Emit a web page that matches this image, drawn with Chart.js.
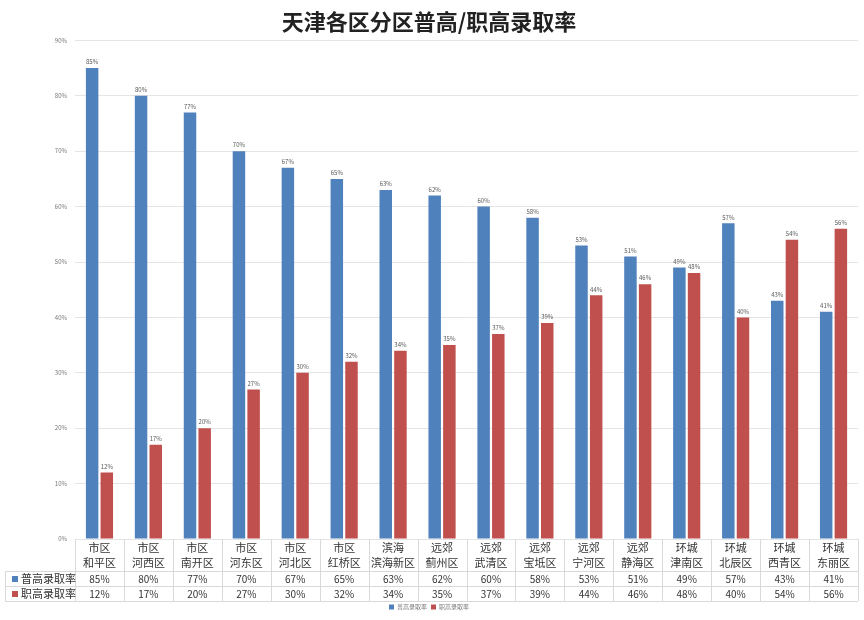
<!DOCTYPE html>
<html>
<head>
<meta charset="utf-8">
<script src="https://cdn.jsdelivr.net/npm/chart.js@4"></script>
<style>
  html, body { margin: 0; padding: 0; background: #fff; }
  #wrap { width: 864px; height: 620px; }
</style>
</head>
<body>
<div id="wrap"><canvas id="chart" width="864" height="620"></canvas></div>
<script>
// data
var regions = ['市区', '市区', '市区', '市区', '市区', '市区', '滨海', '远郊', '远郊', '远郊', '远郊', '远郊', '环城', '环城', '环城', '环城'];
var districts = ['和平区', '河西区', '南开区', '河东区', '河北区', '红桥区', '滨海新区', '蓟州区', '武清区', '宝坻区', '宁河区', '静海区', '津南区', '北辰区', '西青区', '东丽区'];
var puGao = [85, 80, 77, 70, 67, 65, 63, 62, 60, 58, 53, 51, 49, 57, 43, 41];
var zhiGao = [12, 17, 20, 27, 30, 32, 34, 35, 37, 39, 44, 46, 48, 40, 54, 56];
var seriesNames = ['普高录取率', '职高录取率'];
var yTicks = [0, 10, 20, 30, 40, 50, 60, 70, 80, 90];

var BLUE = '#4f81bd', RED = '#c0504d';
var CJK = '"Noto Sans CJK SC", "Noto Sans", sans-serif';

// value labels on top of the bars
var barLabels = {
  id: 'barLabels',
  afterDatasetsDraw: function (chart) {
    var ctx = chart.ctx;
    ctx.save();
    ctx.font = '6px ' + CJK;
    ctx.fillStyle = '#595959';
    ctx.textAlign = 'center';
    ctx.textBaseline = 'bottom';
    chart.data.datasets.forEach(function (ds, di) {
      chart.getDatasetMeta(di).data.forEach(function (bar, i) {
        ctx.fillText(ds.data[i] + '%', bar.x, bar.y - 3);
      });
    });
    ctx.restore();
  }
};

// data table under the plot
var dataTable = {
  id: 'dataTable',
  afterDraw: function (chart) {
    var ctx = chart.ctx;
    var xs = chart.scales.x;
    var area = chart.chartArea;
    var top = area.bottom;
    var colW = (area.right - area.left) / districts.length;
    var rowY = [top + 32, top + 47, top + 62];
    var leftX = 5;
    ctx.save();
    ctx.strokeStyle = '#d9d9d9';
    ctx.lineWidth = 1;
    ctx.beginPath();
    for (var i = 0; i <= districts.length; i++) {
      var x = Math.round(area.left + i * colW) + 0.5;
      ctx.moveTo(x, top);
      ctx.lineTo(x, rowY[2]);
    }
    rowY.forEach(function (y) {
      ctx.moveTo(leftX, Math.round(y) + 0.5);
      ctx.lineTo(area.right, Math.round(y) + 0.5);
    });
    ctx.moveTo(leftX + 0.5, rowY[0]);
    ctx.lineTo(leftX + 0.5, rowY[2]);
    ctx.stroke();

    ctx.textAlign = 'center';
    ctx.textBaseline = 'middle';
    districts.forEach(function (d, i) {
      var cx = xs.getPixelForValue(i);
      ctx.fillStyle = '#333';
      ctx.font = '11px ' + CJK;
      ctx.fillText(regions[i], cx, top + 9);
      ctx.fillText(d, cx, top + 24);
      ctx.font = '10px ' + CJK;
      ctx.fillText(puGao[i] + '%', cx, rowY[0] + 8);
      ctx.fillText(zhiGao[i] + '%', cx, rowY[1] + 8);
    });

    ctx.textAlign = 'left';
    [BLUE, RED].forEach(function (c, k) {
      var y = rowY[k] + 8;
      ctx.fillStyle = c;
      ctx.fillRect(12, y - 3, 6, 6);
      ctx.fillStyle = '#333';
      ctx.font = '11px ' + CJK;
      ctx.fillText(seriesNames[k], 21, y);
    });
    ctx.restore();
  }
};

new Chart(document.getElementById('chart'), {
  type: 'bar',
  data: {
    labels: districts,
    datasets: [
      { label: seriesNames[0], data: puGao, backgroundColor: BLUE },
      { label: seriesNames[1], data: zhiGao, backgroundColor: RED }
    ]
  },
  options: {
    responsive: false,
    animation: false,
    layout: { padding: { top: 6, right: 6, bottom: 0, left: 0 } },
    datasets: { bar: { categoryPercentage: 0.6, barPercentage: 0.85 } },
    plugins: {
      title: {
        display: true,
        text: '天津各区分区普高/职高录取率',
        color: '#222',
        font: { family: CJK, size: 22, weight: 'bold' },
        padding: { top: 2, bottom: 6 }
      },
      legend: {
        position: 'bottom',
        labels: {
          color: '#777',
          font: { family: CJK, size: 6 },
          boxWidth: 5,
          boxHeight: 5,
          padding: 4
        }
      },
      tooltip: { enabled: false }
    },
    scales: {
      x: {
        ticks: { display: false },
        grid: { display: false },
        border: { display: false },
        afterFit: function (s) { s.height = 61; }
      },
      y: {
        min: 0,
        max: 90,
        afterBuildTicks: function (s) { s.ticks = yTicks.map(function (v) { return { value: v }; }); },
        ticks: {
          color: '#777',
          font: { family: CJK, size: 6 },
          padding: 8,
          callback: function (v) { return v + '%'; }
        },
        grid: { color: '#e4e4e4', drawTicks: false },
        border: { display: false },
        afterFit: function (s) { s.width = 75; }
      }
    }
  },
  plugins: [barLabels, dataTable]
});
</script>
</body>
</html>
